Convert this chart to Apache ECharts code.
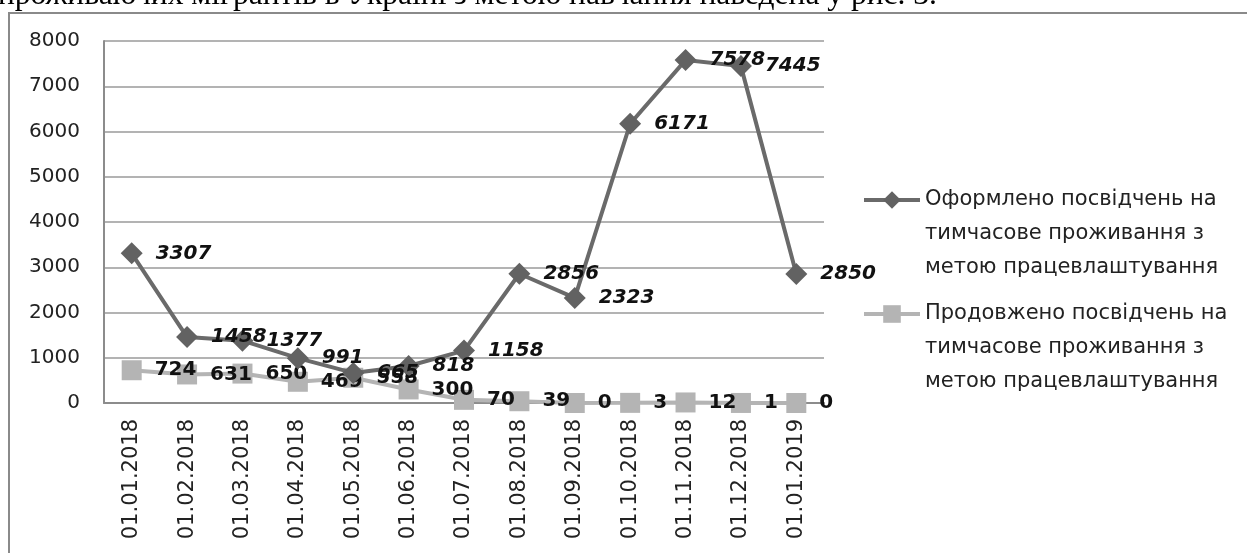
<!DOCTYPE html>
<html>
<head>
<meta charset="utf-8">
<script src="https://cdn.jsdelivr.net/npm/echarts@6/dist/echarts.min.js"></script>
<style>
  html, body { margin: 0; padding: 0; background: #fff; }
  #chart { width: 1247px; height: 553px; }
</style>
</head>
<body>
<div id="chart"></div>
<script>
const dates = ['01.01.2018', '01.02.2018', '01.03.2018', '01.04.2018', '01.05.2018', '01.06.2018',
  '01.07.2018', '01.08.2018', '01.09.2018', '01.10.2018', '01.11.2018', '01.12.2018', '01.01.2019'];
const issued = [3307, 1458, 1377, 991, 665, 818, 1158, 2856, 2323, 6171, 7578, 7445, 2850];
const extended = [724, 631, 650, 469, 558, 300, 70, 39, 0, 3, 12, 1, 0];
const issuedName = 'Оформлено посвідчень на\nтимчасове проживання з\nметою працевлаштування';
const extendedName = 'Продовжено посвідчень на\nтимчасове проживання з\nметою працевлаштування';

const chartDom = document.getElementById('chart');
const myChart = echarts.init(chartDom);

// two blank lines in front so the icon sits level with the first text line
const legendBase = {
  orient: 'vertical', left: 862, padding: 0,
  itemWidth: 56, itemHeight: 22,
  lineStyle: { width: 4 },
  formatter: (name) => ' \n \n' + name,
  textStyle: { fontFamily: 'DejaVu Sans', fontSize: 21, color: '#222', lineHeight: 34 }
};

let option = {
  animation: false,
  textStyle: { fontFamily: 'DejaVu Sans' },
  graphic: [
    {
      type: 'text', left: -2, top: -20, silent: true,
      style: {
        text: 'проживаючих мігрантів в Україні з метою навчання наведена у рис. 3.',
        font: '31.5px "Liberation Serif"', fill: '#000'
      }
    },
    {
      type: 'polyline', silent: true,
      shape: { points: [[9, 553], [9, 13], [1247, 13]] },
      style: { stroke: '#8a8a8a', lineWidth: 2, fill: null }
    }
  ],
  legend: [
    Object.assign({ data: [issuedName], top: 115 }, legendBase),
    Object.assign({ data: [extendedName], top: 229 }, legendBase)
  ],
  grid: { left: 104, right: 423, top: 41, bottom: 150 },
  xAxis: {
    type: 'category',
    data: dates,
    boundaryGap: true,
    axisLine: { lineStyle: { color: '#8c8c8c', width: 2 } },
    axisTick: { show: false },
    axisLabel: {
      rotate: 90, interval: 0, margin: 16,
      fontFamily: 'DejaVu Sans', fontSize: 21, color: '#222'
    }
  },
  yAxis: {
    type: 'value',
    min: 0, max: 8000, interval: 1000,
    axisLine: { show: true, lineStyle: { color: '#8c8c8c', width: 2 } },
    axisTick: { show: false },
    splitLine: { lineStyle: { color: '#9a9a9a', width: 1.5 } },
    axisLabel: {
      margin: 24, fontFamily: 'DejaVu Sans', fontSize: 20, color: '#222',
      formatter: (v) => String(v)
    }
  },
  series: [
    {
      name: issuedName,
      type: 'line',
      data: issued,
      symbol: 'diamond',
      symbolSize: 22,
      z: 3,
      lineStyle: { color: '#6a6a6a', width: 4 },
      itemStyle: { color: '#626262' },
      label: {
        show: true, position: 'right', distance: 13,
        fontFamily: 'DejaVu Sans', fontSize: 20, fontStyle: 'italic', fontWeight: 'bold', color: '#111'
      }
    },
    {
      name: extendedName,
      type: 'line',
      data: extended,
      symbol: 'rect',
      symbolSize: 20,
      z: 2,
      lineStyle: { color: '#b4b4b4', width: 4 },
      itemStyle: { color: '#b4b4b4' },
      label: {
        show: true, position: 'right', distance: 13,
        fontFamily: 'DejaVu Sans', fontSize: 20, fontWeight: 'bold', color: '#111'
      }
    }
  ]
};

option && myChart.setOption(option);
</script>
</body>
</html>
